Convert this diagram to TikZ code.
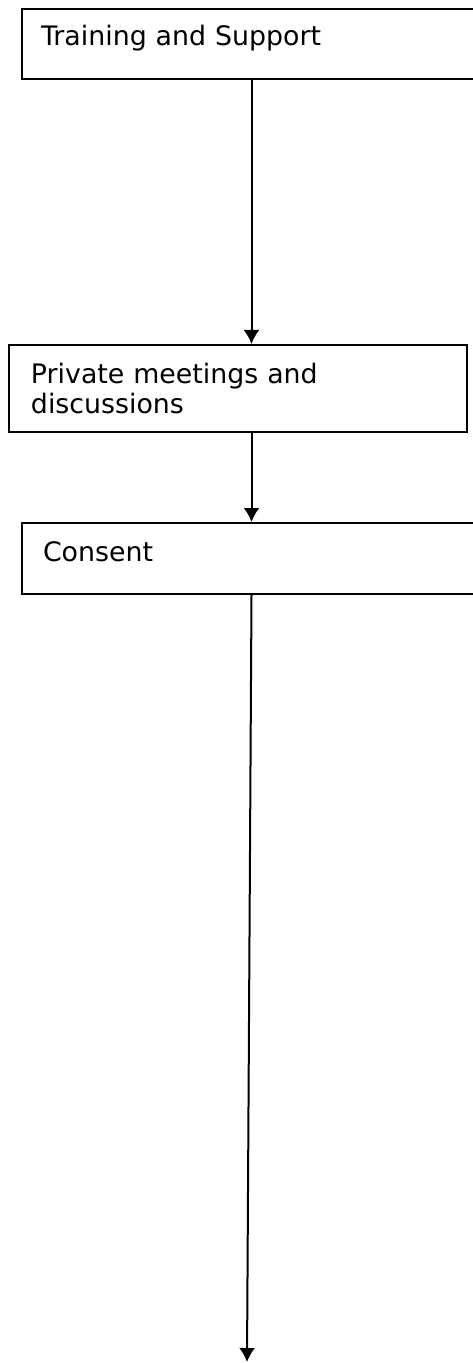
\documentclass[tikz,border=0pt]{standalone}
\usepackage{fontspec}
\setmainfont{DejaVu Sans}
\usepackage{tikz}
\usetikzlibrary{positioning,arrows.meta}

\begin{document}
\begin{tikzpicture}[x=0.5pt, y=-0.5pt,
    ->, > = {Latex[width=8pt,length=7pt]}, line width=1pt,
    every node/.style={draw, rectangle, anchor=north west, inner ysep=0pt, align=left,
        font=\fontsize{13.4}{15}\selectfont}]
    \useasboundingbox (0,0) rectangle (472,1363);
    \node[inner xsep=9.5pt, text width=210.5pt, text height=18.5pt, text depth=16.5pt] (Training) at (21,8) {Training and Support};
    \node[inner xsep=11pt, text width=207pt, text height=19.5pt, text depth=24pt] (Meetings) at (8,344) {Private meetings and\\discussions};
    \node[inner xsep=10.5pt, text width=208.5pt, text height=19pt, text depth=16.5pt] (Consent) at (21,522) {Consent};
    \coordinate (End) at (247,1362);

    \draw (Training.south) -- (Training.south |- Meetings.north);
    \draw (Consent.north |- Meetings.south) -- (Consent.north);
    \draw (Consent.south) -- (End);
\end{tikzpicture}
\end{document}
